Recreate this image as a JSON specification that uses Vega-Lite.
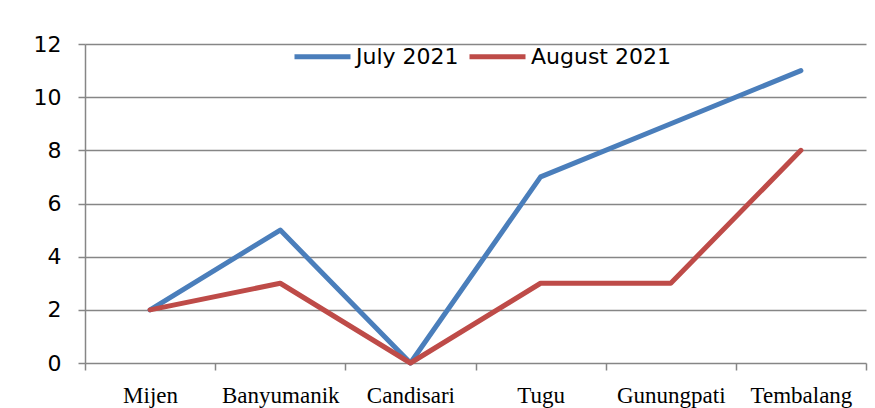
{
  "$schema": "https://vega.github.io/schema/vega-lite/v6.json",
  "width": 781,
  "height": 319,
  "autosize": {"type": "none"},
  "padding": {"left": 85, "top": 44, "right": 9, "bottom": 45},
  "background": "white",
  "data": {
    "values": [
      {"district": "Mijen", "series": "July 2021", "value": 2},
      {"district": "Banyumanik", "series": "July 2021", "value": 5},
      {"district": "Candisari", "series": "July 2021", "value": 0},
      {"district": "Tugu", "series": "July 2021", "value": 7},
      {"district": "Gunungpati", "series": "July 2021", "value": 9},
      {"district": "Tembalang", "series": "July 2021", "value": 11},
      {"district": "Mijen", "series": "August 2021", "value": 2},
      {"district": "Banyumanik", "series": "August 2021", "value": 3},
      {"district": "Candisari", "series": "August 2021", "value": 0},
      {"district": "Tugu", "series": "August 2021", "value": 3},
      {"district": "Gunungpati", "series": "August 2021", "value": 3},
      {"district": "Tembalang", "series": "August 2021", "value": 8}
    ]
  },
  "mark": {"type": "line", "strokeWidth": 5, "strokeCap": "round", "strokeJoin": "round"},
  "encoding": {
    "x": {
      "field": "district",
      "type": "nominal",
      "sort": ["Mijen", "Banyumanik", "Candisari", "Tugu", "Gunungpati", "Tembalang"],
      "scale": {"type": "band", "paddingInner": 0, "paddingOuter": 0},
      "axis": {
        "title": null,
        "labelAngle": 0,
        "tickBand": "extent",
        "tickSize": 7,
        "labelPadding": 14,
        "labelFont": "Liberation Serif",
        "labelFontSize": 23,
        "labelColor": "black",
        "grid": false,
        "domain": false
      }
    },
    "y": {
      "field": "value",
      "type": "quantitative",
      "scale": {"domain": [0, 12], "nice": false},
      "axis": {
        "title": null,
        "values": [0, 2, 4, 6, 8, 10, 12],
        "tickSize": 7,
        "labelPadding": 17,
        "labelFont": "DejaVu Sans",
        "labelFontSize": 22,
        "labelColor": "black",
        "grid": true
      }
    },
    "color": {
      "field": "series",
      "type": "nominal",
      "sort": ["July 2021", "August 2021"],
      "scale": {"domain": ["July 2021", "August 2021"], "range": ["#4A7EBB", "#BE4B48"]},
      "legend": {
        "title": null,
        "orient": "none",
        "direction": "horizontal",
        "legendX": 207,
        "legendY": -18,
        "symbolType": "stroke",
        "symbolSize": 3136,
        "symbolStrokeWidth": 5,
        "labelFont": "DejaVu Sans",
        "labelFontSize": 22,
        "labelColor": "black",
        "labelOffset": 3,
        "columnPadding": 0
      }
    }
  },
  "config": {
    "view": {"stroke": null},
    "axis": {
      "domainColor": "#868686",
      "tickColor": "#868686",
      "gridColor": "#868686",
      "domainWidth": 1.5,
      "tickWidth": 1.5,
      "gridWidth": 1.5,
      "gridOpacity": 1
    }
  }
}
